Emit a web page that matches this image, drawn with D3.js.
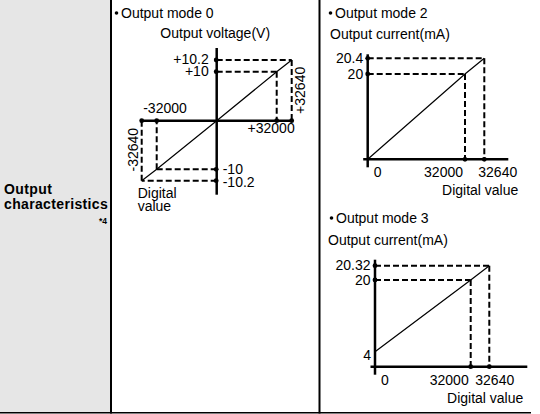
<!DOCTYPE html>
<html>
<head>
<meta charset="utf-8">
<script src="https://cdn.jsdelivr.net/npm/d3@7"></script>
<style>
  body { margin: 0; background: #fff; }
  svg { display: block; font-family: "Liberation Sans", Arial, sans-serif; }
  .axis { stroke: #000; stroke-width: 2.5; }
  .dash { stroke: #000; stroke-width: 2; stroke-dasharray: 6 3; fill: none; }
  .diag { stroke: #000; stroke-width: 1.2; fill: none; }
  .lbl { font-size: 14px; fill: #000; }
</style>
</head>
<body>
<svg id="chart" width="540" height="414"></svg>
<script>
// data (schematic, not to scale)
const mode0Digital = [-32640, -32000, 0, 32000, 32640];
const mode0Voltage = [-10.2, -10, 0, 10, 10.2];
const mode2Digital = [0, 32000, 32640];
const mode2Current = [0, 20, 20.4];
const mode3Digital = [0, 32000, 32640];
const mode3Current = [4, 20, 20.32];

const svg = d3.select("#chart");

// table frame
svg.append("rect").attr("x", 0).attr("y", 0).attr("width", 110).attr("height", 412).attr("fill", "#e6e6e6");
svg.append("line").attr("x1", 111).attr("x2", 111).attr("y1", 0).attr("y2", 413.5).attr("stroke", "#000").attr("stroke-width", 2);
svg.append("line").attr("x1", 319.5).attr("x2", 319.5).attr("y1", 0).attr("y2", 413.5).attr("stroke", "#000").attr("stroke-width", 2);
svg.append("line").attr("x1", 0).attr("x2", 531).attr("y1", 412.8).attr("y2", 412.8).attr("stroke", "#000").attr("stroke-width", 1.4);

svg.append("text").attr("x", 4).attr("y", 194).attr("font-weight", "bold").attr("font-size", 14)
  .attr("letter-spacing", 0.4).text("Output");
svg.append("text").attr("x", 4).attr("y", 208.5).attr("font-weight", "bold").attr("font-size", 14)
  .attr("letter-spacing", 0.35).text("characteristics");
svg.append("text").attr("x", 107).attr("y", 223.5).attr("text-anchor", "end").attr("font-weight", "bold").attr("font-size", 8.5).text("*4");

function header(x, y, txt) {
  svg.append("circle").attr("cx", x).attr("cy", y - 4.5).attr("r", 1.8).attr("fill", "#000");
  svg.append("text").attr("class", "lbl").attr("x", x + 4.5).attr("y", y).text(txt);
}
function label(x, y, txt, anchor) {
  return svg.append("text").attr("class", "lbl").attr("x", x).attr("y", y)
    .attr("text-anchor", anchor || "start").text(txt);
}
function dot(x, y) {
  svg.append("circle").attr("cx", x).attr("cy", y).attr("r", 2.4).attr("fill", "#000");
}
function hline(x1, x2, y, cls) {
  svg.append("line").attr("class", cls).attr("x1", x1).attr("x2", x2).attr("y1", y).attr("y2", y);
}
function vline(x, y1, y2, cls) {
  svg.append("line").attr("class", cls).attr("x1", x).attr("x2", x).attr("y1", y1).attr("y2", y2);
}

// ---- Output mode 0 ----
header(116.5, 17.5, "Output mode 0");
const cx0 = 216.7, cy0 = 120.7;
const x0 = d3.scaleLinear().domain(mode0Digital).range([cx0 - 75, cx0 - 60, cx0, cx0 + 60, cx0 + 75]);
const y0 = d3.scaleLinear().domain(mode0Voltage).range([cy0 + 60, cy0 + 48.6, cy0, cy0 - 49, cy0 - 60.7]);

label(cx0 - 1.5, 38, "Output voltage(V)", "middle");
// dashed guides
mode0Digital.forEach((d, i) => {
  if (d === 0) return;
  hline(cx0, x0(d), y0(mode0Voltage[i]), "dash");
  vline(x0(d), y0(mode0Voltage[i]), cy0, "dash");
});
vline(cx0, y0(10.2) - 12, y0(-10.2) + 14, "axis");
hline(x0(-32640) - 1, x0(32640) + 1, cy0, "axis");
svg.append("path").attr("class", "diag")
  .attr("d", d3.line().x((d, i) => x0(d)).y((d, i) => y0(mode0Voltage[i]))(mode0Digital));
mode0Digital.forEach((d, i) => {
  if (d === 0) return;
  dot(cx0 - 0.5, y0(mode0Voltage[i]));
  dot(x0(d), cy0);
});
label(cx0 - 8, y0(10.2) + 3.5, "+10.2", "end");
label(cx0 - 8, y0(10) + 4.5, "+10", "end");
label(cx0 + 6, y0(-10) + 5, "-10");
label(cx0 + 6, y0(-10.2) + 6, "-10.2");
label(x0(-32640) + 1.5, cy0 - 8, "-32000");
label(x0(32640) + 3, cy0 + 12, "+32000", "end");
label(0, 0, "+32640", "middle")
  .attr("transform", `translate(${x0(32640) + 13},${(y0(10.2) + cy0) / 2}) rotate(-90)`);
label(0, 0, "-32640", "middle")
  .attr("transform", `translate(${x0(-32640) - 4},${(y0(-10.2) + cy0) / 2 - 1}) rotate(-90)`);
label(x0(-32640) - 4, y0(-10.2) + 17, "Digital");
label(x0(-32640) - 4, y0(-10.2) + 30.5, "value");

// ---- current modes ----
function currentPanel(o) {
  header(o.hx, o.hy, o.title);
  label(o.tx, o.ty, "Output current(mA)");
  const x = d3.scaleLinear().domain(o.digital).range(o.xr.map(v => o.ox + v));
  const ydom = [0].concat(o.current.filter(v => v !== 0));
  const y = d3.scaleLinear().domain(ydom).range(o.yr.map(v => o.oy - v));
  const n = o.digital.length;
  for (let i = 1; i < n; i++) {
    hline(o.ox, x(o.digital[i]), y(o.current[i]), "dash");
    vline(x(o.digital[i]), y(o.current[i]), o.oy, "dash");
  }
  vline(o.ox, y(o.current[n - 1]) - o.ytop, o.oy + 8, "axis");
  hline(o.ox - 4.5, x(o.digital[n - 1]) + o.xend, o.oy, "axis");
  svg.append("path").attr("class", "diag")
    .attr("d", d3.line().x(d => x(d)).y((d, i) => y(o.current[i]))(o.digital));
  for (let i = 1; i < n; i++) {
    dot(o.ox, y(o.current[i]));
    dot(x(o.digital[i]), o.oy);
  }
  o.ylabels.forEach((t, i) => label(o.ox - 4.5, y(o.current[i + 1]) + 4.5, t, "end"));
  if (o.current[0] !== 0) label(o.ox - 4, y(o.current[0]) + 8, String(o.current[0]), "end");
  label(o.ox + 6, o.oy + 18, "0");
  label(x(o.digital[1]) - 2, o.oy + 18, String(o.digital[1]), "end");
  label(x(o.digital[2]) + o.l2, o.oy + 18, String(o.digital[2]));
  label(x(o.digital[2]) + 34, o.oy + 36, "Digital value", "end");
}

currentPanel({
  title: "Output mode 2", hx: 330.5, hy: 17.5, tx: 330, ty: 39,
  digital: mode2Digital, current: mode2Current,
  ox: 367.7, oy: 159.3, xr: [0, 97.3, 116.6], yr: [0, 85.3, 101],
  ytop: 4, xend: 24, l2: -6, ylabels: ["20", "20.4"]
});
currentPanel({
  title: "Output mode 3", hx: 331.5, hy: 222.5, tx: 328, ty: 245,
  digital: mode3Digital, current: mode3Current,
  ox: 375, oy: 366.7, xr: [0, 95.7, 114.3], yr: [0, 15, 86.7, 101],
  ytop: 6, xend: 38, l2: -14, ylabels: ["20", "20.32"]
});
</script>
</body>
</html>
